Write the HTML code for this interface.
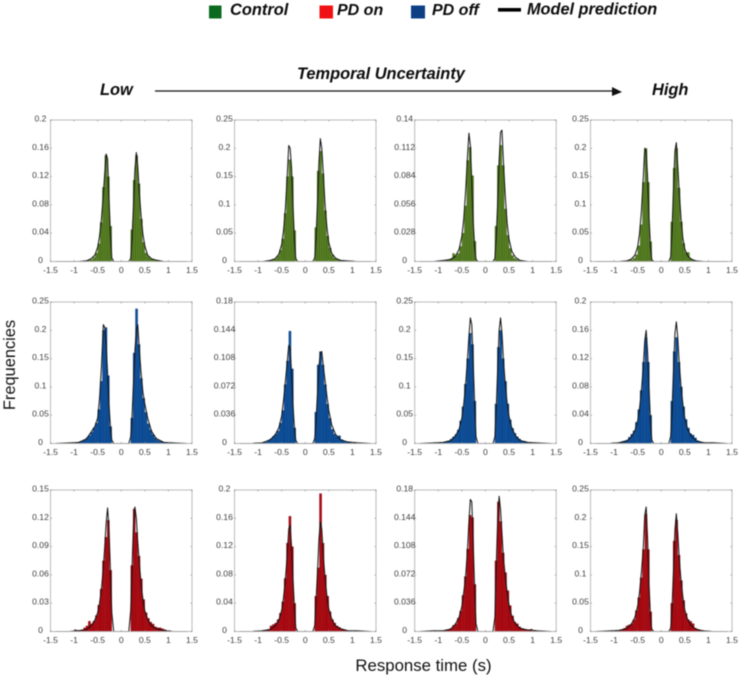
<!DOCTYPE html>
<html lang="en">
<head>
<meta charset="utf-8">
<title>Response time histograms with model prediction</title>
<style>
html,body{margin:0;padding:0;background:#fff;width:740px;height:679px;overflow:hidden}
svg{display:block;filter:blur(0.45px)}
text{font-family:"Liberation Sans",sans-serif}
.hd{font-weight:bold;font-style:italic;fill:#0c0c0c}
.tick{font-size:8.6px;fill:#404040;text-anchor:middle}
</style>
</head>
<body>
<svg id="fig" xmlns="http://www.w3.org/2000/svg" width="740" height="679" viewBox="0 0 740 679">
  <g>
    <rect x="209" y="5.5" width="12.5" height="13" fill="#0b6a1f"/>
    <text class="hd" x="230" y="15" font-size="16.4">Control</text>
    <rect x="319.5" y="5.5" width="13.5" height="13" fill="#f01212"/>
    <text class="hd" x="337" y="15" font-size="16">PD on</text>
    <rect x="411" y="5.5" width="14" height="13" fill="#0c3f84"/>
    <text class="hd" x="432" y="15" font-size="16">PD off</text>
    <rect x="498" y="8" width="23" height="3.6" fill="#000"/>
    <text class="hd" x="527" y="14.5" font-size="16.3">Model prediction</text>
  </g>
  <text class="hd" x="297" y="79" font-size="16.4">Temporal Uncertainty</text>
  <text class="hd" x="100" y="95" font-size="16.4">Low</text>
  <text class="hd" x="652" y="95" font-size="16.4">High</text>
  <line x1="155" y1="91" x2="612" y2="91" stroke="#111" stroke-width="1.2"/>
  <polygon points="612,87 622,92 612,96" fill="#111"/>
  <text transform="translate(15,365) rotate(-90)" text-anchor="middle" font-size="16.4" fill="#111">Frequencies</text>
  <text x="423.5" y="671" text-anchor="middle" font-size="16.8" fill="#111">Response time (s)</text>
  <g id="panels"></g>
</svg>
<script>
// Shared axis values
const xTickValues = [-1.5, -1, -0.5, 0, 0.5, 1, 1.5];
const xTickLabels = ['-1.5', '-1', '-0.5', '0', '0.5', '1', '1.5'];
const binCenters = [0.225, 0.275, 0.325, 0.375, 0.425, 0.475, 0.525, 0.575, 0.625, 0.675, 0.725, 0.775, 0.825, 0.875, 0.925, 0.975, 1.025, 1.075];
const modelTimes = [0.16, 0.2, 0.23, 0.26, 0.29, 0.32, 0.35, 0.38, 0.42, 0.46, 0.5, 0.56, 0.64, 0.74, 0.9, 1.1, 1.4];

// Y tick labels
const ticksA = ['0', '0.04', '0.08', '0.12', '0.16', '0.2'];
const ticksB = ['0', '0.05', '0.1', '0.15', '0.2', '0.25'];
const ticksC = ['0', '0.028', '0.056', '0.084', '0.112', '0.14'];
const ticksD = ['0', '0.036', '0.072', '0.108', '0.144', '0.18'];
const ticksE = ['0', '0.03', '0.06', '0.09', '0.12', '0.15'];

// Control, columns 1-4
const c1BarsNeg = [.05,.12,.15,.105,.055,.025,.012,.006,.003,.002,.001,.001,0,0,0,0,0,0];
const c1BarsPos = [.045,.115,.15,.11,.06,.027,.012,.007,.004,.003,.002,.001,0,0,0,0,0,0];
const c1ModelNeg = [0,.005,.04,.09,.145,.152,.125,.095,.06,.036,.02,.009,.004,.001,0,0,0];
const c1ModelPos = [0,.004,.035,.08,.13,.154,.135,.1,.065,.038,.022,.009,.004,.002,0,0,0];
const c2BarsNeg = [.055,.15,.18,.15,.085,.04,.02,.01,.005,.003,.002,.001,0,0,0,0,0,0];
const c2BarsPos = [.06,.16,.195,.155,.09,.045,.024,.012,.006,.004,.003,.002,.001,0,0,0,0,0];
const c2ModelNeg = [0,.005,.04,.1,.165,.2,.205,.155,.095,.055,.03,.013,.005,.002,0,0,0];
const c2ModelPos = [0,.006,.045,.105,.175,.217,.2,.16,.1,.06,.033,.015,.006,.002,.001,0,0];
const c3BarsNeg = [.02,.085,.113,.1,.055,.028,.015,.008,.006,.008,.003,.002,.001,0,0,0,0,0];
const c3BarsPos = [.035,.095,.115,.095,.052,.026,.013,.006,.003,.002,.001,.001,0,0,0,0,0,0];
const c3ModelNeg = [0,.002,.015,.04,.08,.115,.127,.105,.07,.042,.025,.012,.005,.002,.001,0,0];
const c3ModelPos = [0,.003,.025,.06,.1,.128,.13,.1,.065,.038,.022,.01,.004,.001,0,0,0];
const c4BarsNeg = [.035,.14,.2,.14,.065,.028,.012,.006,.003,.002,.001,.001,0,0,0,0,0,0];
const c4BarsPos = [.07,.165,.2,.13,.07,.032,.016,.016,.005,.002,.001,0,0,0,0,0,0,0];
const c4ModelNeg = [0,.003,.03,.08,.15,.195,.2,.15,.09,.05,.026,.011,.004,.001,0,0,0];
const c4ModelPos = [0,.008,.06,.13,.195,.21,.17,.125,.075,.04,.022,.01,.004,.001,0,0,0];

// PD off, columns 1-4
const f1BarsNeg = [.03,.12,.205,.2,.11,.06,.036,.028,.02,.014,.01,.007,.004,.003,.002,.001,.001,0];
const f1BarsPos = [.045,.16,.238,.175,.115,.08,.055,.035,.024,.016,.01,.006,.004,.003,.002,.001,.001,.001];
const f1ModelNeg = [0,.006,.03,.07,.125,.175,.205,.21,.135,.08,.045,.03,.02,.008,.002,.001,0];
const f1ModelPos = [0,.012,.05,.11,.165,.2,.21,.17,.125,.09,.07,.045,.022,.009,.002,.001,0];
const f2BarsNeg = [.02,.095,.143,.105,.075,.042,.026,.016,.012,.009,.006,.004,.002,.002,.001,.001,.001,.001];
const f2BarsPos = [.04,.1,.117,.1,.075,.05,.032,.018,.012,.009,.01,.005,.003,.002,.002,.001,.001,.001];
const f2ModelNeg = [0,.004,.02,.05,.09,.12,.125,.105,.08,.055,.035,.02,.011,.005,.001,0,0];
const f2ModelPos = [0,.006,.03,.065,.098,.115,.117,.1,.08,.06,.042,.024,.012,.005,.002,.001,0];
const f3BarsNeg = [.075,.175,.195,.15,.105,.065,.04,.024,.016,.012,.008,.005,.003,.002,.001,.001,.001,.001];
const f3BarsPos = [.07,.17,.2,.15,.11,.07,.042,.027,.018,.012,.008,.005,.004,.002,.001,.001,.001,.001];
const f3ModelNeg = [0,.012,.07,.145,.21,.222,.19,.15,.105,.07,.045,.025,.013,.005,.002,.001,0];
const f3ModelPos = [0,.012,.065,.135,.2,.222,.195,.15,.105,.072,.048,.027,.013,.005,.002,.001,0];
const f4BarsNeg = [.04,.115,.15,.115,.075,.048,.03,.018,.013,.009,.005,.004,.003,.002,.001,.001,.001,0];
const f4BarsPos = [.06,.13,.15,.115,.08,.052,.034,.022,.014,.012,.008,.004,.002,.002,.001,.001,.001,.001];
const f4ModelNeg = [0,.005,.035,.08,.13,.16,.145,.11,.075,.05,.032,.018,.009,.003,.001,0,0];
const f4ModelPos = [0,.01,.05,.105,.155,.172,.15,.115,.08,.055,.036,.02,.01,.004,.001,.001,0];

// PD on, columns 1-4
const n1BarsNeg = [.065,.118,.1,.075,.045,.028,.017,.011,.008,.011,.006,.004,.002,.001,.001,.002,0,0];
const n1BarsPos = [.07,.13,.105,.08,.056,.034,.02,.014,.01,.008,.005,.004,.004,.003,.002,.001,.001,0];
const n1ModelNeg = [0,.02,.065,.11,.131,.115,.09,.068,.045,.03,.02,.012,.006,.002,.001,0,0];
const n1ModelPos = [0,.022,.07,.115,.132,.12,.095,.075,.05,.034,.022,.013,.006,.003,.001,0,0];
const n2BarsNeg = [.04,.12,.163,.125,.075,.042,.026,.017,.012,.01,.008,.003,.002,.002,.001,.001,.001,.001];
const n2BarsPos = [.05,.09,.195,.125,.08,.05,.028,.017,.012,.008,.006,.004,.003,.002,.001,.001,.001,.001];
const n2ModelNeg = [0,.005,.035,.075,.12,.15,.145,.11,.075,.048,.03,.016,.008,.003,.001,0,0];
const n2ModelPos = [0,.008,.045,.085,.13,.155,.145,.11,.075,.05,.032,.018,.008,.004,.001,.001,0];
const n3BarsNeg = [.06,.145,.148,.105,.07,.046,.026,.017,.01,.008,.004,.003,.002,.001,.001,.001,.001,.001];
const n3BarsPos = [.09,.165,.14,.1,.075,.052,.033,.02,.012,.01,.006,.004,.003,.002,.002,.003,.001,.001];
const n3ModelNeg = [0,.01,.055,.115,.165,.168,.14,.105,.07,.05,.032,.018,.009,.003,.001,.001,0];
const n3ModelPos = [0,.018,.085,.145,.172,.155,.125,.095,.07,.05,.034,.019,.009,.004,.002,.001,0];
const n4BarsNeg = [.035,.145,.208,.145,.095,.06,.037,.021,.014,.012,.01,.006,.003,.002,.001,.001,.001,.001];
const n4BarsPos = [.05,.16,.197,.135,.09,.055,.032,.021,.018,.014,.006,.004,.002,.002,.001,0,0,0];
const n4ModelNeg = [0,.004,.03,.085,.165,.22,.205,.15,.105,.07,.045,.025,.012,.005,.002,.001,0];
const n4ModelPos = [0,.006,.045,.11,.18,.208,.175,.13,.09,.06,.038,.021,.01,.004,.001,0,0];

const panels = [
  {id:'control-1', row:0, col:0, fill:'#55801f', ticks:ticksA, bn:c1BarsNeg, bp:c1BarsPos, mn:c1ModelNeg, mp:c1ModelPos},
  {id:'control-2', row:0, col:1, fill:'#55801f', ticks:ticksB, bn:c2BarsNeg, bp:c2BarsPos, mn:c2ModelNeg, mp:c2ModelPos},
  {id:'control-3', row:0, col:2, fill:'#55801f', ticks:ticksC, bn:c3BarsNeg, bp:c3BarsPos, mn:c3ModelNeg, mp:c3ModelPos},
  {id:'control-4', row:0, col:3, fill:'#55801f', ticks:ticksB, bn:c4BarsNeg, bp:c4BarsPos, mn:c4ModelNeg, mp:c4ModelPos},
  {id:'pd-off-1', row:1, col:0, fill:'#0a4f9f', ticks:ticksB, bn:f1BarsNeg, bp:f1BarsPos, mn:f1ModelNeg, mp:f1ModelPos},
  {id:'pd-off-2', row:1, col:1, fill:'#0a4f9f', ticks:ticksD, bn:f2BarsNeg, bp:f2BarsPos, mn:f2ModelNeg, mp:f2ModelPos},
  {id:'pd-off-3', row:1, col:2, fill:'#0a4f9f', ticks:ticksB, bn:f3BarsNeg, bp:f3BarsPos, mn:f3ModelNeg, mp:f3ModelPos},
  {id:'pd-off-4', row:1, col:3, fill:'#0a4f9f', ticks:ticksA, bn:f4BarsNeg, bp:f4BarsPos, mn:f4ModelNeg, mp:f4ModelPos},
  {id:'pd-on-1', row:2, col:0, fill:'#b2060f', ticks:ticksE, bn:n1BarsNeg, bp:n1BarsPos, mn:n1ModelNeg, mp:n1ModelPos},
  {id:'pd-on-2', row:2, col:1, fill:'#b2060f', ticks:ticksA, bn:n2BarsNeg, bp:n2BarsPos, mn:n2ModelNeg, mp:n2ModelPos},
  {id:'pd-on-3', row:2, col:2, fill:'#b2060f', ticks:ticksD, bn:n3BarsNeg, bp:n3BarsPos, mn:n3ModelNeg, mp:n3ModelPos},
  {id:'pd-on-4', row:2, col:3, fill:'#b2060f', ticks:ticksB, bn:n4BarsNeg, bp:n4BarsPos, mn:n4ModelNeg, mp:n4ModelPos}
];

const NS = 'http://www.w3.org/2000/svg';
const host = document.getElementById('panels');
const colLeft = [50.5, 234.5, 414.7, 590.5];
const rowTop = [120, 302, 490];
const plotW = 141.5;
const plotH = 141.5;
const binWidth = 0.05;

function make(tag, attrs, parent) {
  const el = document.createElementNS(NS, tag);
  for (const k in attrs) el.setAttribute(k, attrs[k]);
  parent.appendChild(el);
  return el;
}

panels.forEach(function (p) {
  const L = colLeft[p.col];
  const T = rowTop[p.row];
  const B = T + plotH;
  const R = L + plotW;
  const yMax = Number(p.ticks[p.ticks.length - 1]);
  const sx = function (v) { return L + (v + 1.5) / 3 * plotW; };
  const sy = function (v) { return B - v / yMax * plotH; };

  const g = make('g', {}, host);
  
  

  const drawBars = function (values, sign, side) {
    values.forEach(function (v, i) {
      if (v <= 0) return;
      const centre = sign * binCenters[i];
      const bar = make('rect', {
        x: sx(centre - binWidth / 2),
        y: sy(v),
        width: sx(binWidth) - sx(0),
        height: B - sy(v),
        fill: p.fill,
        stroke: 'rgba(0,0,0,0.38)',
        'stroke-width': 0.35
      }, g);
      
      
    });
  };
  drawBars(p.bn, -1, 'negative');
  drawBars(p.bp, 1, 'positive');

  const pts = [];
  for (let i = modelTimes.length - 1; i >= 0; i--) pts.push(sx(-modelTimes[i]).toFixed(2) + ',' + sy(p.mn[i]).toFixed(2));
  for (let i = 0; i < modelTimes.length; i++) pts.push(sx(modelTimes[i]).toFixed(2) + ',' + sy(p.mp[i]).toFixed(2));
  const curve = make('polyline', {
    points: pts.join(' '),
    fill: 'none',
    stroke: '#111',
    'stroke-width': 1,
    'stroke-linejoin': 'round'
  }, g);
  
  

  const box = make('rect', {x: L, y: T, width: plotW, height: plotH, fill: 'none', stroke: '#b4b4b4', 'stroke-width': 0.9}, g);
  
  

  xTickValues.forEach(function (v, i) {
    make('line', {x1: sx(v), x2: sx(v), y1: T, y2: T + 1.5, stroke: '#888', 'stroke-width': 0.6}, g);
    make('line', {x1: sx(v), x2: sx(v), y1: B, y2: B - 1.5, stroke: '#888', 'stroke-width': 0.6}, g);
    const label = make('text', {x: sx(v), y: B + 11.5, class: 'tick'}, g);
    label.textContent = xTickLabels[i];
    
    
  });

  p.ticks.forEach(function (t) {
    const y = sy(Number(t));
    make('line', {x1: L, x2: L + 1.5, y1: y, y2: y, stroke: '#888', 'stroke-width': 0.6}, g);
    make('line', {x1: R, x2: R - 1.5, y1: y, y2: y, stroke: '#888', 'stroke-width': 0.6}, g);
    const label = make('text', {x: L - 10, y: y + 1.5, class: 'tick'}, g);
    label.textContent = t;
    
    
  });
});
</script>
</body>
</html>
